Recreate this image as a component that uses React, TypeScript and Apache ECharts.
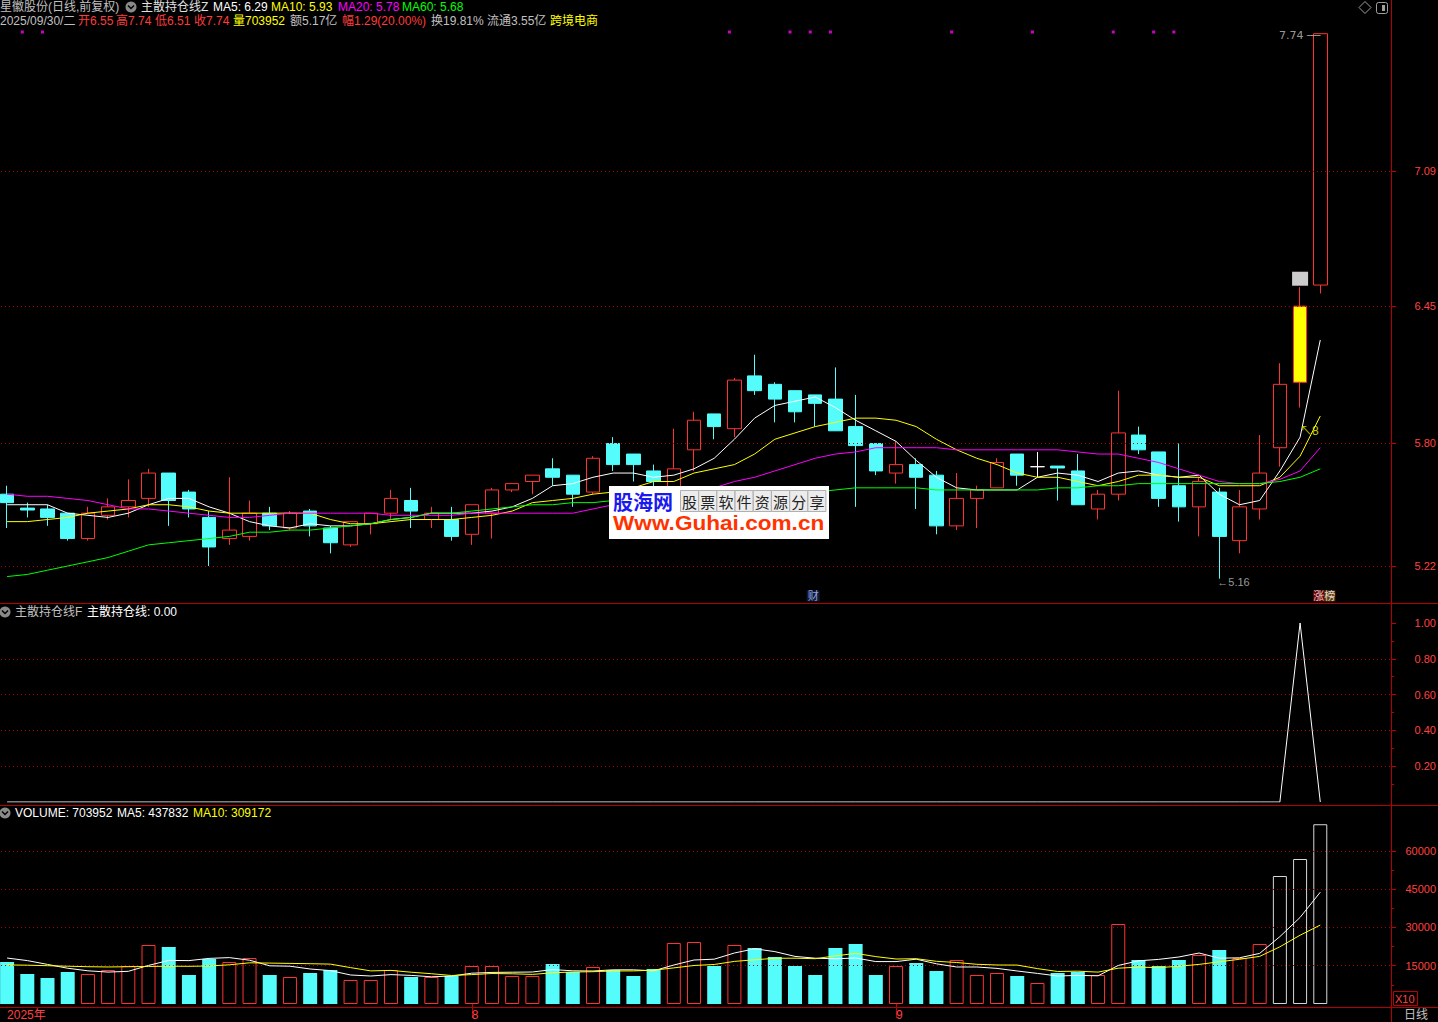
import React, { useEffect, useRef } from "react";
import * as echarts from "echarts";

const julyDays = [1,2,3,4,7,8,9,10,11,14,15,16,17,18,21,22,23,24,25,28,29,30,31];
const augDays = [1,4,5,6,7,8,11,12,13,14,15,18,19,20,21,22,25,26,27,28,29];
const sepDays = [1,2,3,4,5,8,9,10,11,12,15,16,17,18,19,22,23,24,25,26,29,30];
const p2 = (n: number) => String(n).padStart(2, "0");
const dates = [
  ...julyDays.map((d) => `2025-07-${p2(d)}`),
  ...augDays.map((d) => `2025-08-${p2(d)}`),
  ...sepDays.map((d) => `2025-09-${p2(d)}`),
];
const emptySlots = [" ", "  ", "   "];
const categories = [...dates, ...emptySlots];

const open = [5.56,5.494,5.49,5.47,5.35,5.46,5.50,5.54,5.66,5.57,5.45,5.35,5.36,5.47,5.40,5.48,5.40,5.32,5.42,5.47,5.53,5.44,5.44,5.37,5.47,5.58,5.62,5.68,5.65,5.57,5.80,5.75,5.67,5.58,5.77,5.94,5.87,6.12,6.08,6.05,6.03,6.01,5.88,5.80,5.66,5.70,5.65,5.41,5.54,5.59,5.75,5.69,5.693,5.67,5.49,5.56,5.84,5.76,5.60,5.50,5.57,5.34,5.49,5.78,6.09,6.55];
const close = [5.52,5.485,5.45,5.35,5.47,5.50,5.53,5.66,5.53,5.49,5.31,5.39,5.47,5.41,5.47,5.41,5.33,5.43,5.47,5.54,5.48,5.47,5.36,5.51,5.58,5.61,5.65,5.64,5.56,5.73,5.70,5.70,5.62,5.68,5.91,5.88,6.10,6.05,6.01,5.95,5.99,5.86,5.79,5.67,5.70,5.64,5.41,5.54,5.58,5.71,5.65,5.69,5.684,5.51,5.56,5.85,5.77,5.54,5.50,5.62,5.36,5.50,5.66,6.08,6.45,7.74];
const low = [5.40,5.45,5.41,5.34,5.34,5.44,5.45,5.50,5.41,5.45,5.22,5.32,5.34,5.39,5.39,5.36,5.28,5.31,5.37,5.44,5.40,5.40,5.34,5.32,5.35,5.57,5.56,5.60,5.50,5.56,5.67,5.62,5.59,5.56,5.67,5.82,5.83,6.03,5.90,5.90,5.88,5.86,5.50,5.65,5.61,5.49,5.37,5.39,5.40,5.59,5.60,5.64,5.53,5.51,5.44,5.53,5.75,5.50,5.43,5.36,5.16,5.28,5.44,5.69,5.97,6.51];
const high = [5.60,5.52,5.51,5.47,5.50,5.54,5.63,5.68,5.66,5.58,5.48,5.64,5.53,5.50,5.48,5.49,5.41,5.43,5.47,5.58,5.59,5.50,5.50,5.51,5.59,5.61,5.65,5.73,5.65,5.74,5.83,5.75,5.70,5.87,5.95,5.94,6.11,6.22,6.09,6.05,6.03,6.16,6.03,5.80,5.81,5.73,5.67,5.66,5.60,5.73,5.75,5.76,5.69,5.75,5.58,6.05,5.88,5.76,5.80,5.64,5.59,5.58,5.84,6.18,6.54,7.74];

const ma5 = [5.51,5.51,5.51,5.47,5.46,5.45,5.47,5.51,5.54,5.54,5.50,5.47,5.43,5.41,5.40,5.42,5.41,5.41,5.42,5.44,5.45,5.47,5.47,5.47,5.48,5.50,5.54,5.60,5.61,5.64,5.66,5.66,5.64,5.65,5.68,5.73,5.82,5.92,5.98,6.00,6.02,5.97,5.91,5.86,5.81,5.72,5.64,5.59,5.58,5.58,5.58,5.64,5.66,5.65,5.62,5.66,5.67,5.65,5.64,5.65,5.56,5.51,5.53,5.67,5.83,6.29];
const ma10 = [5.43,5.43,5.44,5.45,5.47,5.48,5.49,5.51,5.51,5.50,5.48,5.47,5.47,5.47,5.47,5.47,5.44,5.42,5.42,5.43,5.44,5.44,5.44,5.45,5.46,5.48,5.52,5.53,5.54,5.56,5.57,5.59,5.62,5.62,5.66,5.68,5.70,5.75,5.82,5.85,5.88,5.90,5.92,5.92,5.91,5.88,5.82,5.77,5.73,5.70,5.66,5.64,5.64,5.62,5.60,5.62,5.65,5.65,5.64,5.64,5.60,5.60,5.60,5.64,5.74,5.93];
const ma20 = [5.56,5.55,5.55,5.54,5.53,5.51,5.49,5.49,5.48,5.47,5.46,5.45,5.45,5.46,5.47,5.47,5.47,5.47,5.47,5.46,5.46,5.46,5.46,5.47,5.47,5.47,5.47,5.47,5.47,5.49,5.51,5.52,5.53,5.54,5.56,5.59,5.62,5.64,5.67,5.70,5.73,5.75,5.76,5.78,5.78,5.78,5.78,5.77,5.77,5.77,5.77,5.77,5.77,5.76,5.75,5.75,5.73,5.71,5.68,5.65,5.62,5.61,5.61,5.63,5.67,5.78];
const ma60 = [5.17,5.18,5.20,5.22,5.24,5.26,5.29,5.32,5.33,5.34,5.35,5.36,5.38,5.38,5.39,5.39,5.40,5.41,5.42,5.44,5.45,5.47,5.47,5.48,5.49,5.50,5.51,5.51,5.52,5.52,5.53,5.53,5.53,5.54,5.54,5.55,5.55,5.56,5.56,5.57,5.57,5.58,5.59,5.59,5.59,5.59,5.58,5.58,5.58,5.58,5.58,5.58,5.59,5.59,5.60,5.60,5.61,5.61,5.61,5.61,5.61,5.61,5.61,5.62,5.64,5.68];

const holdLine = [0,0,0,0,0,0,0,0,0,0,0,0,0,0,0,0,0,0,0,0,0,0,0,0,0,0,0,0,0,0,0,0,0,0,0,0,0,0,0,0,0,0,0,0,0,0,0,0,0,0,0,0,0,0,0,0,0,0,0,0,0,0,0,0,1,0];

const volume = [16450,11750,10180,12530,11750,13310,14880,23100,22320,11360,17620,16450,18010,11360,10570,12140,13310,9400,9400,13310,10570,10570,10970,14880,14880,10970,10970,15660,12530,14490,13310,10970,13710,23890,24280,14880,23100,21930,18410,14880,11360,21930,23500,11360,14880,16060,12920,17230,11360,12140,10970,8220,12140,12530,11360,31330,17230,14880,17230,19190,21150,18010,23500,50130,56780,70395];
const volMa5 = [18000,17000,15500,14000,13000,12500,12800,15110,17070,16990,17860,18170,17150,14960,14800,13710,13080,11360,10960,11510,11200,10650,10960,12060,12370,12450,12530,13470,13000,12920,13390,13390,13000,15270,17230,17550,19970,21620,20520,18640,17940,17700,18020,16610,16610,17550,15740,14490,14490,13940,12920,11980,10970,11200,11040,15100,16900,17470,18410,19970,17940,18090,19820,26390,33910,43783];
const volMa10 = [15300,15200,15000,14800,14600,14500,14600,14700,14800,14760,14880,15350,16130,16020,15900,15780,15620,14250,12960,13160,12450,11860,11160,11510,11940,11830,11590,12220,12530,12650,12920,12960,13240,14140,15080,15470,16680,17310,17900,17940,17740,18840,19820,18560,17620,17740,16720,16250,15550,15270,15240,13860,12730,12850,12490,14020,14450,14220,14800,15510,16530,17510,18640,22400,26940,30917];

const mainTicks = [5.22, 5.80, 6.45, 7.09];
const indTicks = [0.2, 0.4, 0.6, 0.8, 1.0];
const indMinor = [0.1, 0.3, 0.5, 0.7, 0.9];
const indGrid = [0.2, 0.4, 0.6, 0.8];
const volTicks = [15000, 30000, 45000, 60000];
const volMinor = [7500, 22500, 37500, 52500];
const topMarkers = [1, 2, 36, 39, 40, 41, 47, 51, 55, 57, 58];
const whiteVolIdx = [63, 64, 65];
const monthLabels: Record<number, string> = { 0: "2025年", 23: "8", 44: "9" };

const FONT = '"Liberation Sans","Noto Sans CJK SC",sans-serif';
const RED = "#ff3c3c";
const AXRED = "#b40000";
const GREY = "#c0c0c0";
const CYAN = "#54fcfc";

function txt(text: string, x: number, y: number, fill: string, size = 12, extra: any = {}) {
  return {
    type: "text",
    x,
    y,
    silent: true,
    z: 100,
    ...extra,
    style: { text, fill, font: `${size}px ${FONT}`, verticalAlign: "middle", ...(extra.style || {}) },
  };
}

function icon(cx: number, cy: number) {
  return {
    type: "group",
    silent: true,
    z: 100,
    children: [
      { type: "circle", shape: { cx, cy, r: 5.5 }, style: { fill: "#8a8a8a" } },
      {
        type: "polyline",
        shape: { points: [[cx - 3, cy - 1.5], [cx, cy + 1.5], [cx + 3, cy - 1.5]] },
        style: { stroke: "#000", lineWidth: 1.5, fill: null },
      },
    ],
  };
}

function hline(y: number, x1: number, x2: number, color = AXRED) {
  return { type: "line", silent: true, z: 90, shape: { x1, y1: y, x2, y2: y }, style: { stroke: color, lineWidth: 1 } };
}

function buildOption() {
  const n = close.length;
  const last = n - 1;
  const candleData = open.map((o, i) => {
    const item: any = { value: [o, close[i], low[i], high[i]] };
    if (o === close[i]) {
      item.itemStyle = { color: "#fff", color0: "#fff", borderColor: "#fff", borderColor0: "#fff", borderColorDoji: "#fff" };
    }
    if (i === 64) {
      item.itemStyle = { color: "#ffff00", borderColor: "#ff3232" };
    }
    return item;
  });

  const volData = volume.map((v, i) => {
    const up = close[i] >= open[i];
    let style: any;
    if (whiteVolIdx.includes(i)) style = { color: "#000", borderColor: "#d8d8d8", borderWidth: 1 };
    else if (up) style = { color: "#000", borderColor: "#ff3232", borderWidth: 1 };
    else style = { color: CYAN, borderColor: CYAN, borderWidth: 0 };
    return { value: v, itemStyle: style };
  });

  const dotted = (vals: number[]) => ({
    symbol: "none",
    silent: true,
    label: { show: false },
    lineStyle: { color: "#b00000", type: [1, 3], width: 1 },
    data: vals.map((v) => ({ yAxis: v })),
  });

  const grids = [
    { left: -3, width: 1394, top: 28, height: 575, outerBoundsMode: "none", containLabel: false },
    { left: -3, width: 1394, top: 605, height: 197, outerBoundsMode: "none", containLabel: false },
    { left: -3, width: 1394, top: 806, height: 201, outerBoundsMode: "none", containLabel: false },
  ];

  const xAxis = grids.map((_, gi) => ({
    type: "category",
    gridIndex: gi,
    data: categories,
    boundaryGap: true,
    axisLine: { show: false },
    splitLine: { show: false },
    axisTick:
      gi === 2
        ? {
            show: true,
            alignWithLabel: true,
            length: 14,
            interval: (idx: number) => idx === 23 || idx === 44,
            lineStyle: { color: "#c00000" },
          }
        : { show: false },
    axisLabel:
      gi === 2
        ? {
            show: true,
            interval: (idx: number) => monthLabels[idx] !== undefined,
            formatter: (_v: string, idx: number) => monthLabels[idx] ?? "",
            color: "#ff4040",
            fontSize: 12,
            fontFamily: FONT,
            align: "left",
            margin: 2,
          }
        : { show: false },
  }));

  const yCommon = (gi: number, min: number, max: number, ticks: number[], fmt: (v: number) => string) => ({
    type: "value",
    gridIndex: gi,
    position: "right",
    min,
    max,
    axisLine: { show: false },
    splitLine: { show: false },
    axisTick: { show: true, length: 5, customValues: ticks, lineStyle: { color: "#c00000" } },
    axisLabel: {
      show: true,
      customValues: ticks,
      formatter: fmt,
      color: "#ff4040",
      fontSize: 11,
      fontFamily: FONT,
      margin: 45,
      align: "right",
    },
  });

  const yMinor = (gi: number, min: number, max: number, ticks: number[]) => ({
    type: "value",
    gridIndex: gi,
    position: "right",
    min,
    max,
    axisLine: { show: false },
    splitLine: { show: false },
    axisTick: { show: true, length: 3, customValues: ticks, lineStyle: { color: "#c00000" } },
    axisLabel: { show: false },
  });

  const yAxis = [
    yCommon(0, 5.0448, 7.767, mainTicks, (v) => v.toFixed(2)),
    yCommon(1, 0, 1.1006, indTicks, (v) => v.toFixed(2)),
    yCommon(2, -1175, 77537, volTicks, (v) => String(Math.round(v))),
    yMinor(1, 0, 1.1006, indMinor),
    yMinor(2, -1175, 77537, volMinor),
  ];

  const lineS = (data: number[], color: string, xi: number, yi: number) => ({
    type: "line",
    xAxisIndex: xi,
    yAxisIndex: yi,
    data,
    showSymbol: false,
    symbol: "none",
    smooth: false,
    silent: true,
    lineStyle: { color, width: 1 },
    itemStyle: { color },
    z: 5,
  });

  const series: any[] = [
    {
      type: "candlestick",
      xAxisIndex: 0,
      yAxisIndex: 0,
      data: candleData,
      barWidth: 14,
      silent: true,
      itemStyle: {
        color: "#000",
        color0: CYAN,
        borderColor: "#ff3232",
        borderColor0: CYAN,
        borderColorDoji: "#fff",
        borderWidth: 1,
      },
      markLine: dotted(mainTicks),
      z: 3,
    },
    lineS(ma5, "#ffffff", 0, 0),
    lineS(ma10, "#ffff00", 0, 0),
    lineS(ma20, "#ff00ff", 0, 0),
    lineS(ma60, "#00ff00", 0, 0),
    {
      type: "scatter",
      xAxisIndex: 0,
      yAxisIndex: 0,
      symbol: "rect",
      symbolSize: 3,
      symbolOffset: [-5, 0],
      itemStyle: { color: "#ff00ff" },
      data: topMarkers.map((i) => [i, 7.748]),
      silent: true,
      z: 6,
    },
    {
      type: "scatter",
      xAxisIndex: 0,
      yAxisIndex: 0,
      symbol: "rect",
      symbolSize: [16, 14],
      itemStyle: { color: "#ffffff" },
      data: [[64, 6.58]],
      silent: true,
      z: 6,
    },
    {
      type: "scatter",
      xAxisIndex: 0,
      yAxisIndex: 0,
      symbolSize: 0,
      silent: true,
      z: 7,
      data: [
        {
          value: [last, high[last]],
          label: {
            show: true,
            position: "left",
            distance: 0,
            formatter: `${high[last].toFixed(2)} ──`,
            color: GREY,
            fontSize: 11,
            fontFamily: '"DejaVu Sans","Liberation Sans",sans-serif',
            offset: [0, 2],
          },
        },
        {
          value: [60, low[60]],
          label: { show: true, position: "right", distance: 0, formatter: "←" + low[60].toFixed(2), color: GREY, fontSize: 11, fontFamily: FONT, offset: [-2, 3] },
        },
        {
          value: [64, 5.86],
          label: { show: true, position: "right", distance: 0, formatter: "↖8", color: "#ffff00", fontSize: 12, fontFamily: FONT },
        },
        {
          value: [40, 5.083],
          label: { show: true, position: "inside", formatter: "财", color: "#b8c8ff", fontSize: 11, fontFamily: FONT, backgroundColor: "#10204a", padding: [0, 1], offset: [-2, 1] },
        },
        {
          value: [last, 5.083],
          label: {
            show: true,
            position: "inside",
            offset: [4, 1],
            formatter: "{a|涨}{b|榜}",
            rich: {
              a: { color: "#ffffff", backgroundColor: "#8c0000", fontSize: 11, fontFamily: FONT },
              b: { color: "#ffffff", backgroundColor: "#7a4a10", fontSize: 11, fontFamily: FONT },
            },
          },
        },
      ],
    },
    {
      ...lineS(holdLine, "#ffffff", 1, 1),
      markLine: dotted(indGrid),
    },
    {
      type: "bar",
      xAxisIndex: 2,
      yAxisIndex: 2,
      data: volData,
      barWidth: 14,
      silent: true,
      markLine: dotted(volTicks),
      z: 3,
    },
    lineS(volMa5, "#ffffff", 2, 2),
    lineS(volMa10, "#ffff00", 2, 2),
  ];

  const cells = "股票软件资源分享".split("");
  const graphic: any[] = [
    txt("星徽股份(日线,前复权)", 0, 7, GREY),
    icon(131, 7),
    txt("主散持仓线Z", 141, 7, "#e0e0e0"),
    txt(`MA5: ${ma5[last].toFixed(2)}`, 213, 7, "#ffffff"),
    txt(`MA10: ${ma10[last].toFixed(2)}`, 271, 7, "#ffff00"),
    txt(`MA20: ${ma20[last].toFixed(2)}`, 338, 7, "#ff00ff"),
    txt(`MA60: ${ma60[last].toFixed(2)}`, 402, 7, "#00ff00"),
    txt("2025/09/30/二", 0, 21, GREY),
    txt(`开${open[last].toFixed(2)}`, 78, 21, RED),
    txt(`高${high[last].toFixed(2)}`, 116, 21, RED),
    txt(`低${low[last].toFixed(2)}`, 155, 21, RED),
    txt(`收${close[last].toFixed(2)}`, 194, 21, RED),
    txt("量703952", 233, 21, "#ffff00"),
    txt("额5.17亿", 290, 21, GREY),
    txt("幅1.29(20.00%)", 342, 21, RED),
    txt("换19.81%", 431, 21, GREY),
    txt("流通3.55亿", 487, 21, GREY),
    txt("跨境电商", 550, 21, "#ffff00"),
    icon(5, 612),
    txt("主散持仓线F", 15, 612, GREY),
    txt(`主散持仓线: ${holdLine[last].toFixed(2)}`, 87, 612, "#ffffff"),
    icon(5, 813),
    txt("VOLUME: 703952", 15, 813, "#ffffff"),
    txt("MA5: 437832", 117, 813, "#ffffff"),
    txt("MA10: 309172", 193, 813, "#ffff00"),
    hline(603.5, 0, 1438),
    hline(805.5, 0, 1438),
    hline(1007.5, 0, 1438),
    { type: "line", silent: true, z: 90, shape: { x1: 1391.5, y1: 0, x2: 1391.5, y2: 1022 }, style: { stroke: AXRED, lineWidth: 1 } },
    { type: "polygon", silent: true, z: 100, shape: { points: [[1365, 1.5], [1371, 7.5], [1365, 13.5], [1359, 7.5]] }, style: { stroke: "#a0a0a0", fill: null, lineWidth: 1 } },
    { type: "rect", silent: true, z: 100, shape: { x: 1376.5, y: 2.5, width: 11, height: 11, r: 2 }, style: { stroke: "#a0a0a0", fill: null, lineWidth: 1 } },
    { type: "rect", silent: true, z: 100, shape: { x: 1382, y: 5, width: 3, height: 6 }, style: { fill: "#a0a0a0" } },
    { type: "rect", silent: true, z: 100, shape: { x: 1393.5, y: 991.5, width: 24, height: 14 }, style: { stroke: "#c00000", fill: null, lineWidth: 1 } },
    txt("X10", 1395, 999, "#ff4040", 11),
    txt("日线", 1404, 1015, GREY, 12),
    { type: "rect", silent: true, z: 120, shape: { x: 609, y: 486, width: 220, height: 53 }, style: { fill: "#ffffff" } },
    { type: "text", silent: true, z: 121, x: 613, y: 501, style: { text: "股海网", fill: "#1a1aee", font: `bold 20px "Noto Sans CJK SC",sans-serif`, verticalAlign: "middle" } },
    ...cells.map((c, i) => ({
      type: "rect",
      silent: true,
      z: 121,
      shape: { x: 680.5 + i * 18.2, y: 490.5, width: 18, height: 21 },
      style: { fill: "#ececec", stroke: "#b0b0b0", lineWidth: 1 },
    })),
    ...cells.map((c, i) => ({
      type: "text",
      silent: true,
      z: 122,
      x: 689.5 + i * 18.2,
      y: 501,
      style: { text: c, fill: "#222", font: `15px "Noto Sans CJK SC",sans-serif`, verticalAlign: "middle", align: "center" },
    })),
    { type: "text", silent: true, z: 121, x: 613, y: 523, scaleX: 1.13, style: { text: "Www.Guhai.com.cn", fill: "#ff3300", font: `bold 20px "Liberation Sans",sans-serif`, verticalAlign: "middle" } },
  ];

  return {
    animation: false,
    backgroundColor: "#000000",
    grid: grids,
    xAxis,
    yAxis,
    series,
    graphic,
  };
}

export default function App() {
  const ref = useRef<HTMLDivElement>(null);
  useEffect(() => {
    if (!ref.current) return;
    const chart = echarts.init(ref.current, null, { renderer: "svg" });
    chart.setOption(buildOption() as any);
    return () => chart.dispose();
  }, []);
  return (
    <div
      ref={ref}
      style={{ position: "absolute", left: 0, top: 0, width: 1438, height: 1022, background: "#000" }}
    />
  );
}
